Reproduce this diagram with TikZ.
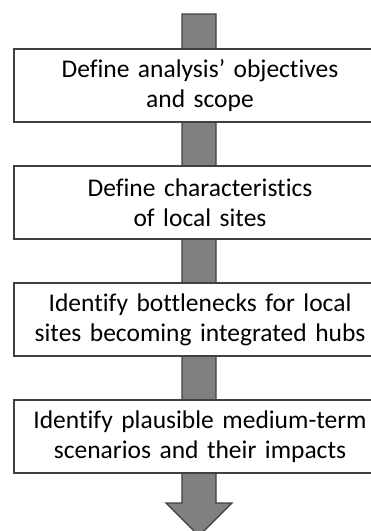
\documentclass[tikz,border=0pt]{standalone}
\usepackage{fontspec}
\setmainfont[Ligatures={NoCommon}, WordSpace=0.8]{Carlito}
\usetikzlibrary{positioning}
\definecolor{edgegray}{HTML}{404040}
\definecolor{arrowgray}{HTML}{808080}

\begin{document}
\begin{tikzpicture}[x=1pt, y=1pt,
    stepbox/.style={draw=edgegray, line width=1.3pt, fill=white, minimum width=372pt, minimum height=73pt, text width=360pt, align=center, inner sep=0pt, font=\fontsize{25.5}{30}\selectfont}]
  \useasboundingbox (0,0) rectangle (371,-531);
  % Big arrow in the back
  \coordinate (top) at (199,-14);
  \coordinate (tip) at (199,-536);
  \filldraw[draw=edgegray, fill=arrowgray, line width=1.3pt] ([xshift=-17pt]top) -- ([xshift=17pt]top) -- ([xshift=17pt, yshift=33pt]tip) -- ([xshift=33pt, yshift=33pt]tip) -- (tip) -- ([xshift=-33pt, yshift=33pt]tip) -- ([xshift=-17pt, yshift=33pt]tip) -- cycle;

  % Steps
  \node[stepbox] (s1) at (200,-85.5) {Define analysis’ objectives\\and scope};
  \node[stepbox] (s2) at (200,-202.5) {Define characteristics\\of local sites};
  \node[stepbox] (s3) at (200,-319.5) {Identify bottlenecks for local\\sites becoming integrated hubs};
  \node[stepbox] (s4) at (200,-436.5) {Identify plausible medium-term\\scenarios and their impacts};
\end{tikzpicture}
\end{document}
